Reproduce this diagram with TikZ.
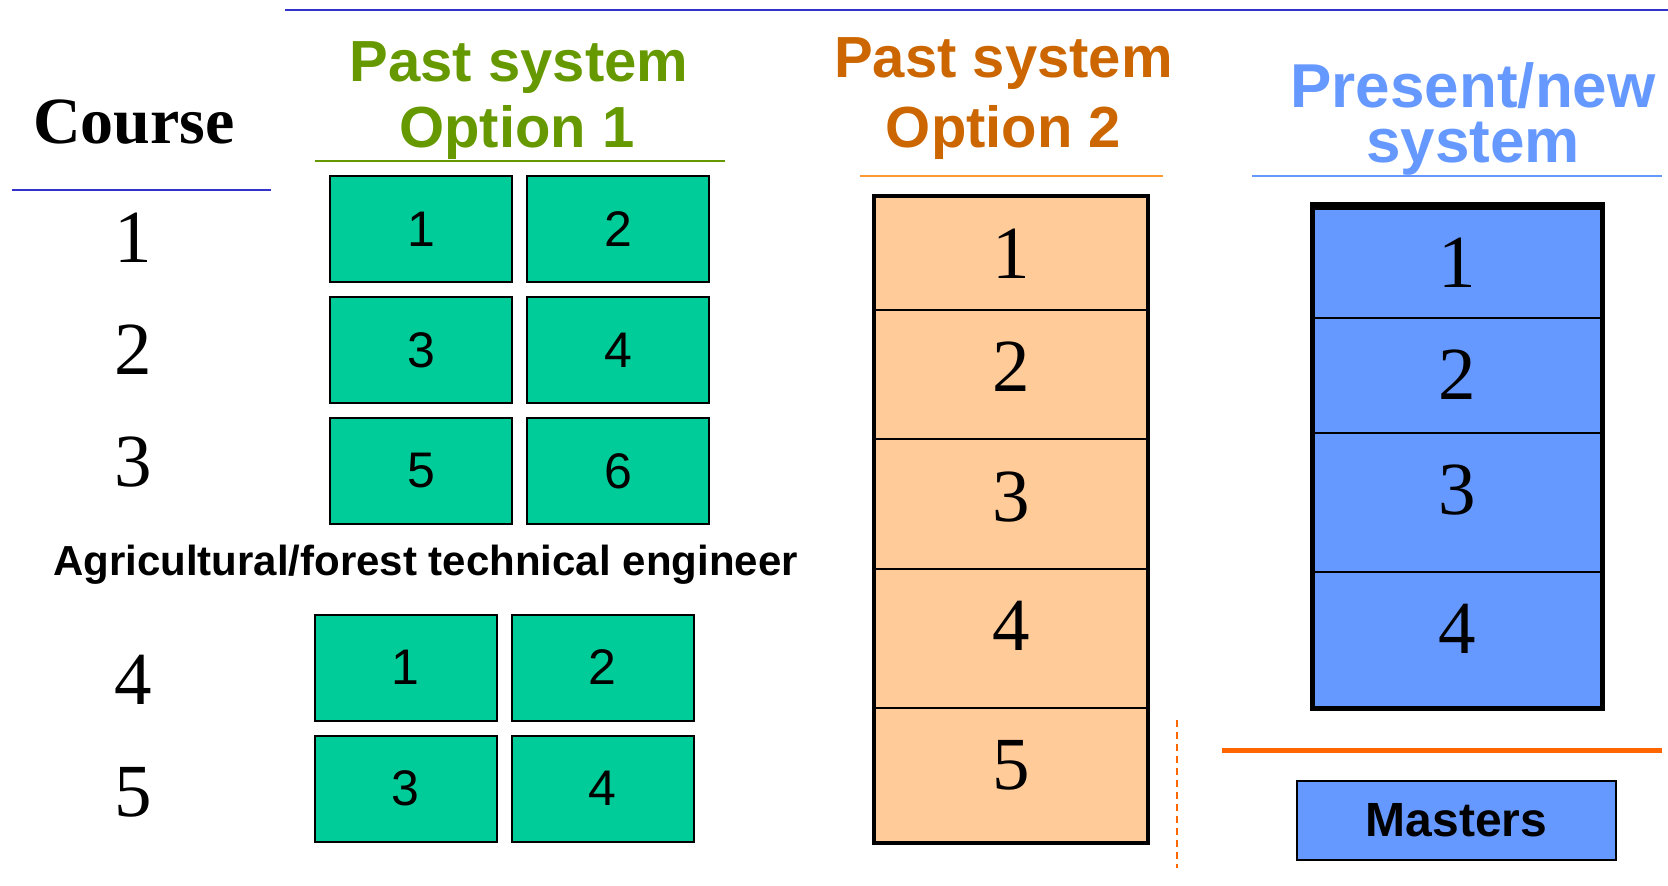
\documentclass[tikz,border=0pt]{standalone}
\usepackage{fontspec}
\setmainfont{Liberation Serif}
\newfontfamily\arial{Liberation Sans}
\definecolor{topblue}{HTML}{3333CC}
\definecolor{titlegreen}{HTML}{669900}
\definecolor{titleorange}{HTML}{CC6600}
\definecolor{lineorange}{HTML}{FF9933}
\definecolor{titleblue}{HTML}{6699FF}
\definecolor{boxgreen}{HTML}{00CC99}
\definecolor{boxorange}{HTML}{FFCC99}
\definecolor{boxblue}{HTML}{6699FF}
\definecolor{strongorange}{HTML}{FF6600}
\begin{document}
\begin{tikzpicture}[x=0.5pt,y=-0.5pt,
  gbox/.style={draw=black,fill=boxgreen,line width=1pt,minimum width=91pt,minimum height=53pt,inner sep=0pt,font=\arial\fontsize{25}{28}\selectfont},
  ocell/.style={draw=black,fill=boxorange,line width=0.9pt,minimum width=136pt,inner sep=0pt},
  bcell/.style={draw=black,fill=boxblue,line width=0.9pt,minimum width=144.5pt,inner sep=0pt},
  bignum/.style={font=\fontsize{37.5}{40}\selectfont,inner sep=0pt},
  titletext/.style={font=\arial\bfseries\fontsize{29}{32}\selectfont,anchor=base,inner sep=0pt},
  rule/.style={line width=1pt}
]
\useasboundingbox (0,0) rectangle (1668,885);

% top rules
\draw[rule,topblue] (285,10) -- (1668,10);
\draw[rule,topblue] (12,190) -- (271,190);
\draw[rule,titlegreen] (315,161) -- (725,161);
\draw[rule,lineorange] (860,176) -- (1163,176);
\draw[rule,titleblue] (1252,176) -- (1662,176);

% Course column
\node[font=\bfseries\fontsize{33}{36}\selectfont,anchor=base,inner sep=0pt] (course) at (134,143) {Course};
\node[bignum] (c1) at (133,238) {1};
\node[bignum] (c2) at (133,350) {2};
\node[bignum] (c3) at (133,462) {3};
\node[bignum] (c4) at (133,680) {4};
\node[bignum] (c5) at (133,792) {5};

% Option 1
\node[titletext,titlegreen] (gt1) at (519,81) {Past system};
\node[titletext,titlegreen] (gt2) at (517,147) {Option 1};
\node[gbox] (g1) at (421,229) {1};
\node[gbox] (g2) at (618,229) {2};
\node[gbox] (g3) at (421,350) {3};
\node[gbox] (g4) at (618,350) {4};
\node[gbox] (g5) at (421,471) {5};
\node[gbox] (g6) at (618,471) {6};
\node[font=\arial\bfseries\fontsize{21}{24}\selectfont,anchor=base,inner sep=0pt] (agri) at (425.5,575) {Agricultural/forest technical engineer};
\node[gbox] (h1) at (405.5,667.5) {1};
\node[gbox] (h2) at (602.5,667.5) {2};
\node[gbox] (h3) at (405.5,788.5) {3};
\node[gbox] (h4) at (602.5,788.5) {4};

% Option 2
\node[titletext,titleorange] (ot1) at (1003.5,77) {Past system};
\node[titletext,titleorange] (ot2) at (1003.5,147) {Option 2};
\node[ocell,minimum height=56.5pt] (o1) at (1011,253.5) {};
\node[ocell,minimum height=64.5pt] (o2) at (1011,374.5) {};
\node[ocell,minimum height=65pt]   (o3) at (1011,504) {};
\node[ocell,minimum height=69.5pt] (o4) at (1011,638.5) {};
\node[ocell,minimum height=67pt]   (o5) at (1011,775) {};
\draw[line width=2pt] (o1.north west) rectangle (o5.south east);
\node[bignum] (o1d) at (1011,254) {1};
\node[bignum] (o2d) at (1011,367) {2};
\node[bignum] (o3d) at (1011,497) {3};
\node[bignum] (o4d) at (1011,626) {4};
\node[bignum] (o5d) at (1011,765) {5};

% Present/new system
\node[titletext,titleblue,font=\arial\bfseries\fontsize{31}{27.5}\selectfont,align=center] (bt) at (1473,162) {Present/new\\system};
\node[bcell,minimum height=56.5pt] (b1) at (1457.5,261.5) {};
\node[bcell,minimum height=57.5pt] (b2) at (1457.5,375.5) {};
\node[bcell,minimum height=69.5pt] (b3) at (1457.5,502.5) {};
\node[bcell,minimum height=68pt]   (b4) at (1457.5,640) {};
\draw[line width=2.5pt] (b1.north west) rectangle (b4.south east);
\draw[line width=4pt] ([yshift=-1pt]b1.north west) -- ([yshift=-1pt]b1.north east);
\node[bignum] (b1d) at (1457.5,263) {1};
\node[bignum] (b2d) at (1457.5,375) {2};
\node[bignum] (b3d) at (1457.5,490) {3};
\node[bignum] (b4d) at (1457.5,629) {4};

% separators and masters
\draw[strongorange,line width=1pt,dash pattern=on 3.5pt off 2.5pt] (1177,720) -- (1177,868);
\draw[strongorange,line width=2.5pt] (1222,750) -- (1662,750);
\node[draw=black,fill=boxblue,line width=1pt,minimum width=159.5pt,minimum height=39.5pt,inner sep=0pt,font=\arial\bfseries\fontsize{24}{26}\selectfont] (masters) at (1456.5,820.5) {Masters};
\end{tikzpicture}
\end{document}
